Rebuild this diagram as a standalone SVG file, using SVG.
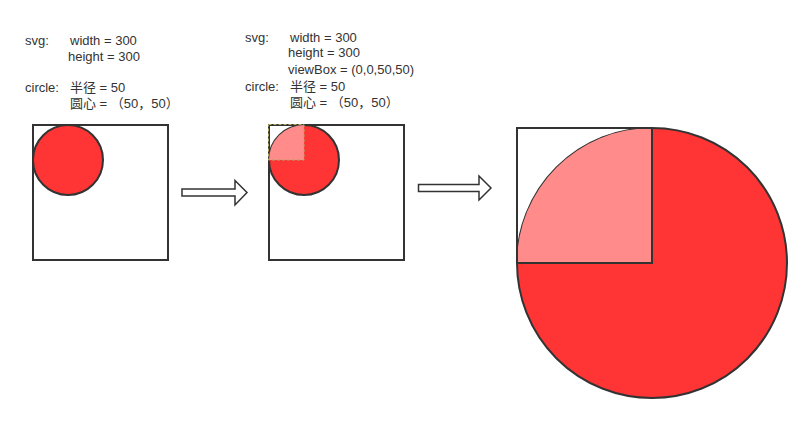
<svg xmlns="http://www.w3.org/2000/svg" width="812" height="422" viewBox="0 0 812 422">
<style>
text{font-family:"Liberation Sans","Noto Sans CJK SC",sans-serif;font-size:13px;fill:#333}
.box{fill:none;stroke:#333;stroke-width:2}
.red{fill:#ff3434;stroke:#333;stroke-width:2}
.pink{fill:#ff8b8b}
.arrow{fill:#fff;stroke:#333;stroke-width:1.5}
</style>
<rect width="812" height="422" fill="#fff"/>
<g id="label1">
<text x="25" y="45">svg:</text>
<text x="70" y="45">width = 300</text>
<text x="68" y="61">height = 300</text>
<text x="25" y="92">circle:</text>
<text x="70" y="92">半径 = 50</text>
<text x="70" y="108">圆心 = （50，50）</text>
</g>
<g id="label2">
<text x="245" y="42">svg:</text>
<text x="290" y="42">width = 300</text>
<text x="288" y="57">height = 300</text>
<text x="288" y="74">viewBox = (0,0,50,50)</text>
<text x="245" y="91">circle:</text>
<text x="290" y="91">半径 = 50</text>
<text x="290" y="107">圆心 = （50，50）</text>
</g>
<g id="step1">
<rect class="box" x="33" y="125" width="135" height="135"/>
<circle class="red" cx="68" cy="160" r="35"/>
</g>
<g id="step2">
<rect class="box" x="269" y="125" width="135" height="135"/>
<circle class="red" cx="304" cy="160" r="35"/>
<path class="pink" d="M269,160 A35,35 0 0 1 304,125 L304,160 Z"/>
<rect x="268.5" y="124.5" width="35.5" height="35.5" fill="none" stroke="#b0a860" stroke-width="1" stroke-dasharray="3,2"/>
</g>
<g id="step3">
<circle class="red" cx="652" cy="263" r="135"/>
<path class="pink" d="M517,263 A135,135 0 0 1 652,128 L652,263 Z"/>
<rect class="box" x="517" y="128" width="135" height="135"/>
</g>
<g id="connectors">
<path class="arrow" d="M182,189 L235,189 L235,180.5 L247,192.5 L235,205 L235,196 L182,196 Z"/>
<path class="arrow" d="M418.5,184.5 L479,184.5 L479,176 L491,188 L479,200 L479,191.5 L418.5,191.5 Z"/>
</g>
</svg>
